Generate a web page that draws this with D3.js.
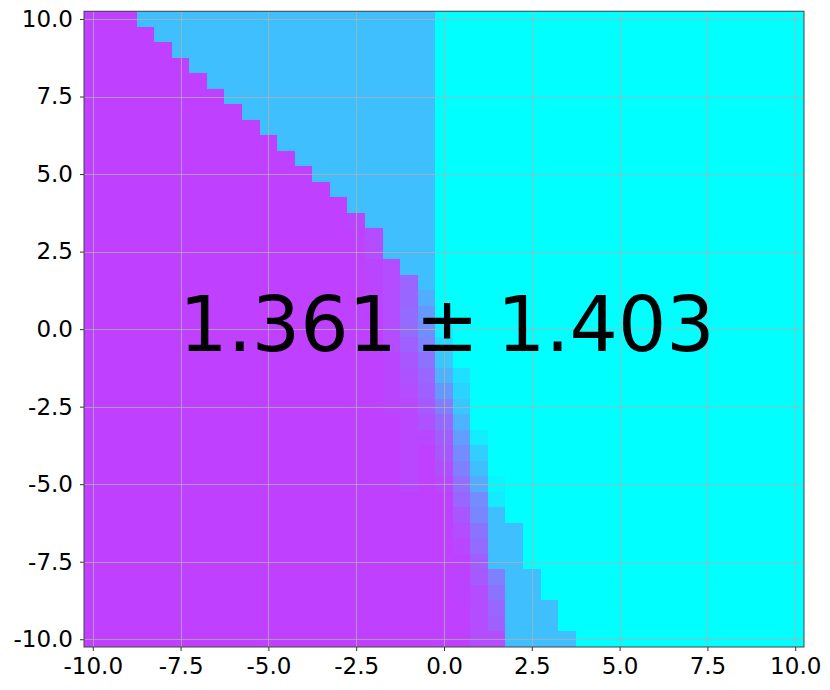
<!DOCTYPE html>
<html>
<head>
<meta charset="utf-8">
<script src="https://cdn.jsdelivr.net/npm/d3@7/dist/d3.min.js"></script>
<style>
  html, body { margin: 0; padding: 0; background: #fff; }
  svg { display: block; }
  .tick text { font-family: "DejaVu Sans", sans-serif; font-size: 23px; fill: #000; }
</style>
</head>
<body>
<svg id="chart" width="830" height="690"></svg>
<script>
// ---- data ----
const xCenters = [-10,-9.5,-9,-8.5,-8,-7.5,-7,-6.5,-6,-5.5,-5,-4.5,-4,-3.5,-3,-2.5,-2,-1.5,-1,-0.5,0,0.5,1,1.5,2,2.5,3,3.5,4,4.5,5,5.5,6,6.5,7,7.5,8,8.5,9,9.5,10];
const yCenters = [10,9.5,9,8.5,8,7.5,7,6.5,6,5.5,5,4.5,4,3.5,3,2.5,2,1.5,1,0.5,0,-0.5,-1,-1.5,-2,-2.5,-3,-3.5,-4,-4.5,-5,-5.5,-6,-6.5,-7,-7.5,-8,-8.5,-9,-9.5,-10];
const cellHalf = 0.25;
const xTicks = [-10,-7.5,-5,-2.5,0,2.5,5,7.5,10];
const yTicks = [-10,-7.5,-5,-2.5,0,2.5,5,7.5,10];
const tickLabels = ["-10.0","-7.5","-5.0","-2.5","0.0","2.5","5.0","7.5","10.0"];
const meanText = "1.361";
const stdText = "1.403";
// each row (top to bottom) as runs of [colormap value, cell count], left to right
const rowRuns = [
  [[.75,3],[.25,17],[0,21]],
  [[.75,4],[.25,16],[0,21]],
  [[.75,5],[.25,15],[0,21]],
  [[.75,6],[.25,14],[0,21]],
  [[.75,7],[.25,13],[0,21]],
  [[.75,8],[.25,12],[0,21]],
  [[.75,9],[.25,11],[0,21]],
  [[.75,10],[.25,10],[0,21]],
  [[.75,11],[.25,9],[0,21]],
  [[.75,12],[.25,8],[0,21]],
  [[.75,13],[.25,7],[0,21]],
  [[.75,14],[.25,6],[0,21]],
  [[.75,15],[.25,5],[0,21]],
  [[.75,15],[.73,1],[.25,4],[0,21]],
  [[.75,16],[.7,1],[.25,3],[0,21]],
  [[.75,16],[.7,1],[.25,3],[0,21]],
  [[.75,16],[.73,1],[.7,1],[.25,2],[0,21]],
  [[.75,16],[.73,1],[.7,1],[.6,1],[.25,1],[0,21]],
  [[.75,16],[.73,1],[.7,1],[.6,1],[.32,1],[0,21]],
  [[.75,16],[.74,1],[.7,1],[.58,1],[.4,1],[0,21]],
  [[.75,17],[.7,1],[.58,1],[.44,1],[.06,1],[0,20]],
  [[.75,17],[.7,1],[.62,1],[.48,1],[.15,1],[0,20]],
  [[.75,17],[.73,1],[.66,1],[.55,1],[.22,1],[0,20]],
  [[.75,17],[.73,1],[.68,1],[.6,1],[.3,1],[.12,1],[0,19]],
  [[.75,17],[.73,1],[.7,1],[.62,1],[.4,1],[.17,1],[0,19]],
  [[.75,17],[.73,1],[.72,1],[.65,1],[.5,1],[.22,1],[0,19]],
  [[.75,18],[.72,1],[.68,1],[.58,1],[.3,1],[0,19]],
  [[.75,18],[.72,1],[.72,1],[.63,1],[.38,1],[.07,1],[0,18]],
  [[.75,18],[.72,1],[.75,1],[.66,1],[.45,1],[.19,1],[0,18]],
  [[.75,18],[.72,1],[.75,1],[.69,1],[.5,1],[.25,1],[0,18]],
  [[.75,18],[.72,1],[.75,1],[.72,1],[.56,1],[.33,1],[.03,1],[0,17]],
  [[.75,21],[.6,1],[.45,1],[.08,1],[0,17]],
  [[.75,21],[.66,1],[.47,1],[.25,1],[0,17]],
  [[.75,21],[.7,1],[.55,1],[.25,2],[0,16]],
  [[.75,21],[.72,1],[.58,1],[.25,2],[0,16]],
  [[.75,21],[.74,1],[.63,1],[.25,2],[0,16]],
  [[.75,21],[.74,1],[.65,1],[.5,1],[.25,2],[0,15]],
  [[.75,21],[.74,1],[.7,1],[.55,1],[.25,2],[0,15]],
  [[.75,22],[.7,1],[.6,1],[.25,3],[0,14]],
  [[.75,22],[.7,1],[.62,1],[.25,3],[0,14]],
  [[.75,22],[.7,1],[.7,1],[.25,4],[0,13]]
];

// ---- build cells ----
const cells = [];
rowRuns.forEach((runs, j) => {
  let i = 0;
  runs.forEach(([v, n]) => {
    for (let k = 0; k < n; k++) {
      cells.push({x: xCenters[i], y: yCenters[j], v: v});
      i++;
    }
  });
});

// ---- layout ----
const svg = d3.select("#chart");
const L = 84, R = 804, T = 11.25, B = 647;
const x = d3.scaleLinear().domain([-10.25, 10.25]).range([L, R]);
const y = d3.scaleLinear().domain([-10.25, 10.25]).range([B, T]);
const color = d3.scaleLinear().domain([0, 1]).range(["#00ffff", "#ff00ff"]).interpolate(d3.interpolateRgb);

svg.append("rect").attr("width", 830).attr("height", 690).attr("fill", "#fff");

svg.append("g").selectAll("rect").data(cells).join("rect")
  .attr("x", d => x(d.x - cellHalf))
  .attr("y", d => y(d.y + cellHalf))
  .attr("width", d => x(d.x + cellHalf) - x(d.x - cellHalf))
  .attr("height", d => y(d.y - cellHalf) - y(d.y + cellHalf))
  .attr("fill", d => color(d.v))
  .attr("shape-rendering", "crispEdges");

// grid
const grid = svg.append("g").attr("stroke", "#b0b0b0").attr("stroke-opacity", 0.75).attr("stroke-width", 1);
grid.selectAll("line.gx").data(xTicks).join("line")
  .attr("x1", d => Math.round(x(d)) + 0.5).attr("x2", d => Math.round(x(d)) + 0.5)
  .attr("y1", T).attr("y2", B);
grid.selectAll("line.gy").data(yTicks).join("line")
  .attr("y1", d => Math.round(y(d)) + 0.5).attr("y2", d => Math.round(y(d)) + 0.5)
  .attr("x1", L).attr("x2", R);

// frame
svg.append("rect").attr("x", L).attr("y", T).attr("width", R - L).attr("height", B - T)
  .attr("fill", "none").attr("stroke", "#444").attr("stroke-width", 1);

// axes
const fmt = d => tickLabels[xTicks.indexOf(d)];
const xAxis = d3.axisBottom(x).tickValues(xTicks).tickFormat(fmt).tickSize(4).tickPadding(7);
const yAxis = d3.axisLeft(y).tickValues(yTicks).tickFormat(d => tickLabels[yTicks.indexOf(d)]).tickSize(4).tickPadding(7);
const gx = svg.append("g").attr("transform", `translate(0,${B})`).call(xAxis);
const gy = svg.append("g").attr("transform", `translate(${L},0)`).call(yAxis);
[gx, gy].forEach(g => {
  g.select(".domain").remove();
  g.selectAll(".tick line").attr("stroke", "#333");
  g.selectAll(".tick text").attr("font-family", "DejaVu Sans").attr("font-size", 23).attr("fill", "#000");
});

// annotation
const t = svg.append("text")
  .attr("x", x(0) + 3).attr("y", y(0) + 22)
  .attr("text-anchor", "middle")
  .attr("font-family", "DejaVu Sans")
  .attr("font-size", 76)
  .attr("fill", "#000");
t.append("tspan").text(meanText);
t.append("tspan").attr("dx", "0.24em").text("±");
t.append("tspan").attr("dx", "0.24em").text(stdText);
</script>
</body>
</html>
